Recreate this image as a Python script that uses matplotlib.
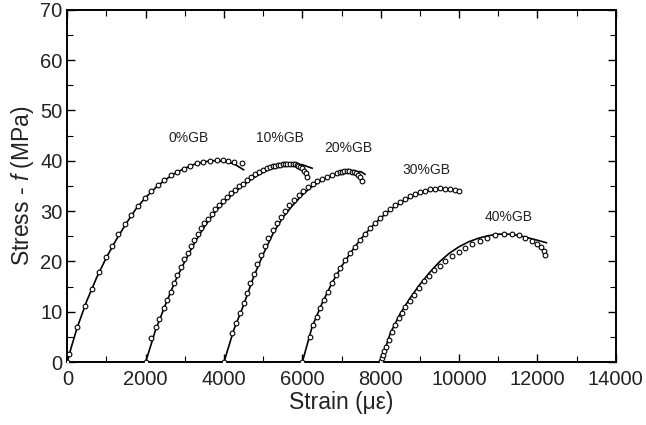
import matplotlib.pyplot as plt
import numpy as np

plt.rcParams['font.family'] = ['Liberation Sans', 'DejaVu Sans']
plt.rcParams['mathtext.fontset'] = 'custom'
plt.rcParams['mathtext.it'] = 'Liberation Sans:italic'
plt.rcParams['mathtext.rm'] = 'Liberation Sans'

# measured points (strain in micro-strain, stress in MPa)
gb0_x = [0, 51, 255, 453, 623, 810, 981, 1149, 1303, 1474, 1627, 1798, 1985, 2138, 2309,
         2478, 2649, 2794, 2981, 3134, 3305, 3474, 3645, 3816, 3969, 4112, 4258, 4455]
gb0_y = [0.0, 1.6, 7.0, 11.2, 14.5, 17.8, 20.8, 23.1, 25.4, 27.5, 29.2, 31.0, 32.5, 33.9, 35.1,
         36.2, 37.2, 37.8, 38.4, 39.0, 39.5, 39.8, 40.0, 40.2, 40.2, 40.0, 39.8, 39.5]

gb10_x = [2000, 2130, 2266, 2351, 2470, 2555, 2649, 2725, 2810, 2904, 2989, 3075, 3152, 3244,
          3331, 3415, 3499, 3586, 3688, 3780, 3875, 3969, 4072, 4174, 4276, 4378, 4480, 4582,
          4685, 4794, 4897, 5000, 5100, 5178, 5250, 5305, 5370, 5433, 5500, 5561, 5620, 5689,
          5750, 5816, 5860, 5901, 5945, 5987, 6046, 6097, 6130]
gb10_y = [0.0, 4.7, 6.9, 8.5, 10.7, 12.3, 14.0, 15.6, 17.3, 18.9, 20.5, 21.7, 23.1, 24.3,
          25.4, 26.6, 27.6, 28.5, 29.5, 30.4, 31.2, 31.9, 32.7, 33.5, 34.2, 34.9, 35.4, 36.2,
          36.7, 37.3, 37.8, 38.1, 38.5, 38.8, 38.9, 39.0, 39.1, 39.2, 39.3, 39.4, 39.4, 39.4,
          39.4, 39.3, 39.2, 39.0, 38.8, 38.5, 38.0, 37.5, 36.7]

gb20_x = [4000, 4200, 4310, 4412, 4514, 4583, 4667, 4769, 4853, 4948, 5050, 5134, 5246, 5349,
          5451, 5561, 5671, 5791, 5911, 6028, 6148, 6268, 6386, 6506, 6626, 6754, 6881, 6950,
          7009, 7070, 7137, 7200, 7264, 7320, 7374, 7430, 7477, 7520]
gb20_y = [0.0, 5.7, 7.7, 9.8, 11.8, 13.7, 15.6, 17.5, 19.5, 21.3, 23.1, 24.7, 26.2, 27.6,
          28.9, 30.1, 31.2, 32.2, 33.1, 33.9, 34.7, 35.4, 35.9, 36.4, 36.8, 37.2, 37.5, 37.7,
          37.8, 37.9, 37.9, 37.9, 37.8, 37.7, 37.5, 37.2, 36.8, 36.0]

gb30_x = [6000, 6187, 6284, 6370, 6455, 6557, 6651, 6754, 6864, 6966, 7093, 7221, 7349, 7476,
          7604, 7732, 7860, 7987, 8115, 8243, 8370, 8498, 8626, 8754, 8880, 9009, 9137, 9264,
          9392, 9520, 9650, 9775, 9900, 10000]
gb30_y = [0.0, 5.0, 7.4, 9.0, 10.7, 12.3, 14.0, 15.6, 17.3, 18.7, 20.3, 21.6, 22.9, 24.3,
          25.4, 26.6, 27.6, 28.6, 29.6, 30.4, 31.1, 31.7, 32.3, 32.9, 33.3, 33.7, 34.0, 34.3,
          34.4, 34.5, 34.4, 34.3, 34.1, 33.9]

gb40_x = [8000, 8020, 8040, 8056, 8090, 8141, 8200, 8285, 8371, 8455, 8542, 8626, 8736, 8838,
          8966, 9094, 9221, 9349, 9502, 9648, 9818, 9987, 10159, 10330, 10524, 10714, 10924,
          11137, 11351, 11520, 11691, 11862, 11990, 12092, 12159, 12202]
gb40_y = [0.0, 0.3, 0.8, 1.4, 2.2, 3.0, 4.4, 6.0, 7.4, 8.7, 9.8, 11.0, 12.1, 13.3,
          14.7, 16.0, 17.1, 18.2, 19.1, 20.1, 21.1, 21.9, 22.7, 23.4, 24.1, 24.7, 25.2,
          25.4, 25.4, 25.2, 24.7, 24.1, 23.5, 22.8, 22.1, 21.3]

# fitted curves
fit0_x = [0, 100, 250, 500, 750, 1000, 1250, 1500, 1750, 2000, 2250, 2500, 2750, 3000,
          3250, 3500, 3750, 4000, 4250, 4500]
fit0_y = [0.0, 2.9, 6.8, 12.2, 16.8, 20.8, 24.3, 27.5, 30.4, 32.7, 34.6, 36.2, 37.5, 38.5,
          39.3, 39.8, 40.0, 39.9, 39.4, 38.2]
fit10_x = [2000, 2250, 2500, 2750, 3000, 3250, 3500, 3750, 4000, 4250, 4500, 4750, 5000,
           5250, 5500, 5750, 6000, 6250]
fit10_y = [0.0, 6.3, 11.3, 16.0, 20.0, 23.7, 26.9, 29.6, 31.8, 33.6, 35.2, 36.6, 37.7,
           38.6, 39.2, 39.4, 39.2, 38.5]
fit20_x = [4000, 4250, 4500, 4750, 5000, 5250, 5500, 5750, 6000, 6250, 6500, 6750, 7000,
           7250, 7500, 7600]
fit20_y = [0.0, 6.4, 11.3, 16.8, 21.4, 25.5, 28.7, 31.1, 33.2, 34.9, 36.1, 37.0, 37.6,
           37.9, 37.8, 37.3]
fit30_x = [6000, 6250, 6500, 6750, 7000, 7250, 7500, 7750, 8000, 8250, 8500, 8750, 9000,
           9250, 9500, 9750, 10000]
fit30_y = [0.0, 7.0, 11.6, 15.6, 19.0, 21.9, 24.5, 26.7, 28.6, 30.3, 31.6, 32.7, 33.6,
           34.1, 34.4, 34.3, 34.0]
fit40_x = [8000, 8250, 8500, 8750, 9000, 9250, 9500, 9750, 10000, 10250, 10500, 10750,
           11000, 11250, 11500, 11750, 12000, 12230]
fit40_y = [0.0, 5.8, 9.6, 12.7, 15.4, 17.8, 19.9, 21.6, 22.9, 23.9, 24.6, 25.1,
           25.4, 25.4, 25.2, 24.7, 24.2, 23.7]

labels = ["0%GB", "10%GB", "20%GB", "30%GB", "40%GB"]
label_x = [3100, 5430, 7180, 9180, 11270]
label_y = [44.5, 44.5, 42.5, 38.2, 28.8]

fig = plt.figure(figsize=(6.46, 4.25), dpi=100)
ax = fig.add_axes([0.1042, 0.1482, 0.8489, 0.829])

pts = [(gb0_x, gb0_y), (gb10_x, gb10_y), (gb20_x, gb20_y), (gb30_x, gb30_y), (gb40_x, gb40_y)]
fits = [(fit0_x, fit0_y), (fit10_x, fit10_y), (fit20_x, fit20_y), (fit30_x, fit30_y), (fit40_x, fit40_y)]

for (fx, fy) in fits:
    ax.plot(fx, fy, color='black', linewidth=1.2, zorder=2)
for (px, py) in pts:
    ax.plot(px, py, linestyle='none', marker='o', markersize=3.4, markerfacecolor='white',
            markeredgecolor='black', markeredgewidth=0.8, zorder=3)

for t, x, y in zip(labels, label_x, label_y):
    ax.text(x, y, t, fontsize=10, ha='center', va='center', color='#222222')

ax.set_xlim(0, 14000)
ax.set_ylim(0, 70)
ax.set_xticks(np.arange(0, 14001, 2000))
ax.set_xticks(np.arange(0, 14001, 1000), minor=True)
ax.set_yticks(np.arange(0, 71, 10))
ax.set_yticks(np.arange(0, 71, 5), minor=True)
ax.tick_params(which='both', direction='in', top=True, right=True, labelsize=14.5, colors='#222222')
ax.tick_params(which='major', length=6, width=1, color='black')
ax.tick_params(which='minor', length=4, width=0.8, color='black')
ax.tick_params(axis='x', which='major', pad=6)
for s in ax.spines.values():
    s.set_linewidth(1.4)

ax.set_xlabel("Strain (\u03bc\u03b5)", fontsize=16.5, labelpad=1, color='#222222')
ax.set_ylabel("Stress - $f$ (MPa)", fontsize=16.5, labelpad=3, color='#222222')

plt.savefig("out.png", dpi=100)
